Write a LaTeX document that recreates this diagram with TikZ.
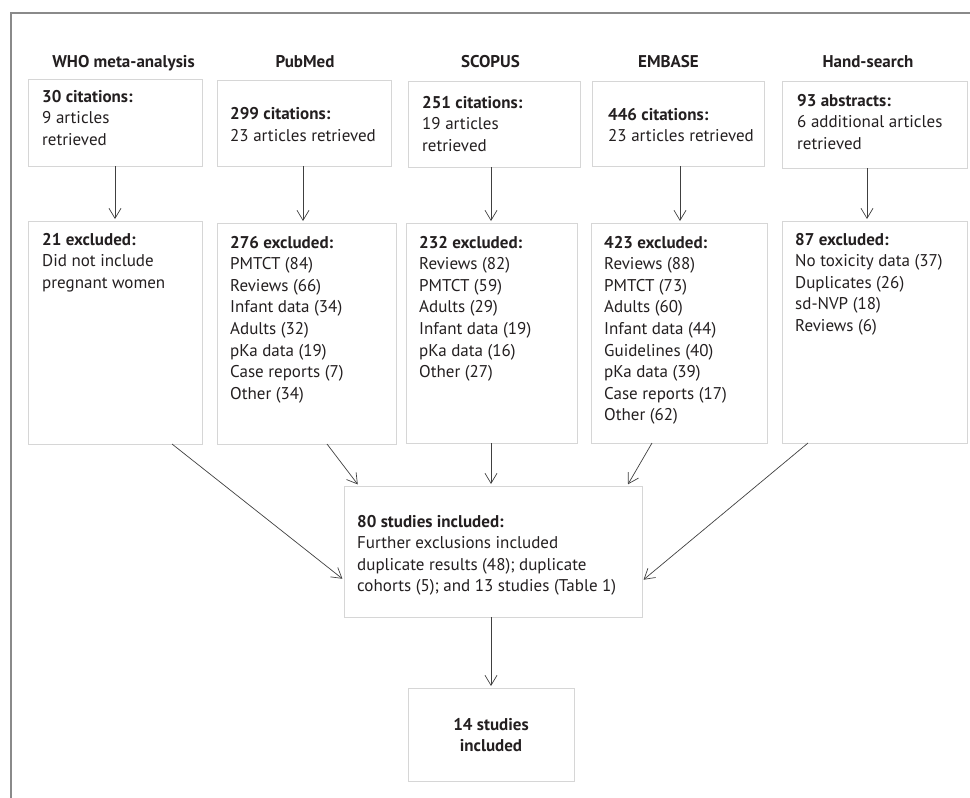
\documentclass[tikz,border=0pt]{standalone}
\usepackage{fontspec}
\setmainfont{PT Sans}
\usetikzlibrary{arrows.meta}
\definecolor{boxgray}{HTML}{D6D6D6}
\definecolor{framegray}{HTML}{8A8A8A}
\definecolor{ink}{HTML}{231F20}
\definecolor{arrgray}{HTML}{404040}
\newcommand\txtlines[4]{\foreach \ltext [count=\nn] in {#4} {\node[txt, anchor=base west] (#1-\nn) at (#2,{#3+(\nn-1)*21.6}) {\ltext};}}
\begin{document}
\begin{tikzpicture}[x=1pt,y=-1pt,
  box/.style={draw=boxgray, line width=1pt, inner sep=0pt, outer sep=0pt, anchor=north west},
  txt/.style={inner sep=0pt, text=ink, font=\fontsize{17pt}{21.6pt}\selectfont},
  hdr/.style={inner sep=0pt, text=ink, font=\fontsize{17pt}{21.6pt}\selectfont\bfseries, anchor=base},
  arrow/.style={draw=arrgray, line width=0.7pt, shorten >=2pt, -{Straight Barb[length=10pt,width=12pt]}}]
\useasboundingbox (0,0) rectangle (970,798);
\draw[framegray, line width=2pt] (11,798) -- (11,12.5) -- (970,12.5);

% headers
\node[hdr] (h1) at (123.5,67) {WHO meta-analysis};
\node[hdr] (h2) at (305,67) {PubMed};
\node[hdr] (h3) at (490.5,67) {SCOPUS};
\node[hdr] (h4) at (668.5,67) {EMBASE};
\node[hdr] (h5) at (868,67) {Hand-search};

% top boxes
\node[box, minimum width=174pt, minimum height=87pt] (who) at (28,79) {};
\node[box, minimum width=174pt, minimum height=86pt] (pub) at (217,80) {};
\node[box, minimum width=172pt, minimum height=86pt] (sco) at (408,81) {};
\node[box, minimum width=172pt, minimum height=85pt] (emb) at (592,81) {};
\node[box, minimum width=185pt, minimum height=87pt] (hand) at (782,81) {};

% exclusion boxes
\node[box, minimum width=174pt, minimum height=223pt] (whoX) at (28,221) {};
\node[box, minimum width=179pt, minimum height=221pt] (pubX) at (217,223) {};
\node[box, minimum width=171pt, minimum height=220pt] (scoX) at (406,223) {};
\node[box, minimum width=176pt, minimum height=220pt] (embX) at (591,223) {};
\node[box, minimum width=185pt, minimum height=222pt] (handX) at (782,221) {};

% bottom boxes
\node[box, minimum width=298pt, minimum height=131pt] (cen) at (344,486) {};
\node[box, minimum width=166pt, minimum height=93pt] (fin) at (408,688) {};

% texts
\txtlines{whoT}{42}{102}{{\textbf{30 citations:}},9 articles,retrieved}
\txtlines{pubT}{230}{119.5}{{\textbf{299 citations:}},23 articles retrieved}
\txtlines{scoT}{422}{108}{{\textbf{251 citations:}},19 articles,retrieved}
\txtlines{embT}{608}{120}{{\textbf{446 citations:}},23 articles retrieved}
\txtlines{handT}{797}{106}{{\textbf{93 abstracts:}},6 additional articles,retrieved}

\txtlines{whoE}{42}{245}{{\textbf{21 excluded:}},Did not include,pregnant women}
\txtlines{pubE}{230}{248}{{\textbf{276 excluded:}},PMTCT (84),Reviews (66),Infant data (34),Adults (32),pKa data (19),Case reports (7),Other (34)}
\txtlines{scoE}{419}{248}{{\textbf{232 excluded:}},Reviews (82),PMTCT (59),Adults (29),Infant data (19),pKa data (16),Other (27)}
\txtlines{embE}{604}{248}{{\textbf{423 excluded:}},Reviews (88),PMTCT (73),Adults (60),Infant data (44),Guidelines (40),pKa data (39),Case reports (17),Other (62)}
\txtlines{handE}{795}{245}{{\textbf{87 excluded:}},No toxicity data (37),Duplicates (26),sd-NVP (18),Reviews (6)}

\txtlines{cenT}{357}{527}{{\textbf{80 studies included:}},Further exclusions included,duplicate results (48); duplicate,cohorts (5); and 13 studies (Table 1)}
\node[hdr] (finT1) at (491,730) {14 studies};
\node[hdr] (finT2) at (491,751.6) {included};

% helper coordinates
\coordinate (xa) at (115,0);
\coordinate (xb) at (303,0);
\coordinate (xc) at (491,0);
\coordinate (xd) at (680,0);
\coordinate (xe) at (867,0);
\coordinate (s1) at (172,0);
\coordinate (s2) at (327,0);
\coordinate (s4) at (652,0);
\coordinate (s5) at (808,0);
\coordinate (e1) at (0,580);
\coordinate (e2) at (359,0);
\coordinate (e4) at (627,0);
\coordinate (e5) at (0,581);

% arrows
\draw[arrow] (who.south -| xa) -- (whoX.north -| xa);
\draw[arrow] (pub.south -| xb) -- (pubX.north -| xb);
\draw[arrow] (sco.south -| xc) -- (scoX.north -| xc);
\draw[arrow] (emb.south -| xd) -- (embX.north -| xd);
\draw[arrow] (hand.south -| xe) -- (handX.north -| xe);

\draw[arrow] (whoX.south -| s1) -- (cen.west |- e1);
\draw[arrow] (pubX.south -| s2) -- (cen.north -| e2);
\draw[arrow] (scoX.south -| xc) -- (cen.north -| xc);
\draw[arrow] (embX.south -| s4) -- (cen.north -| e4);
\draw[arrow] (handX.south -| s5) -- (cen.east |- e5);
\draw[arrow] (cen.south -| fin.north) -- (fin.north);
\end{tikzpicture}
\end{document}
